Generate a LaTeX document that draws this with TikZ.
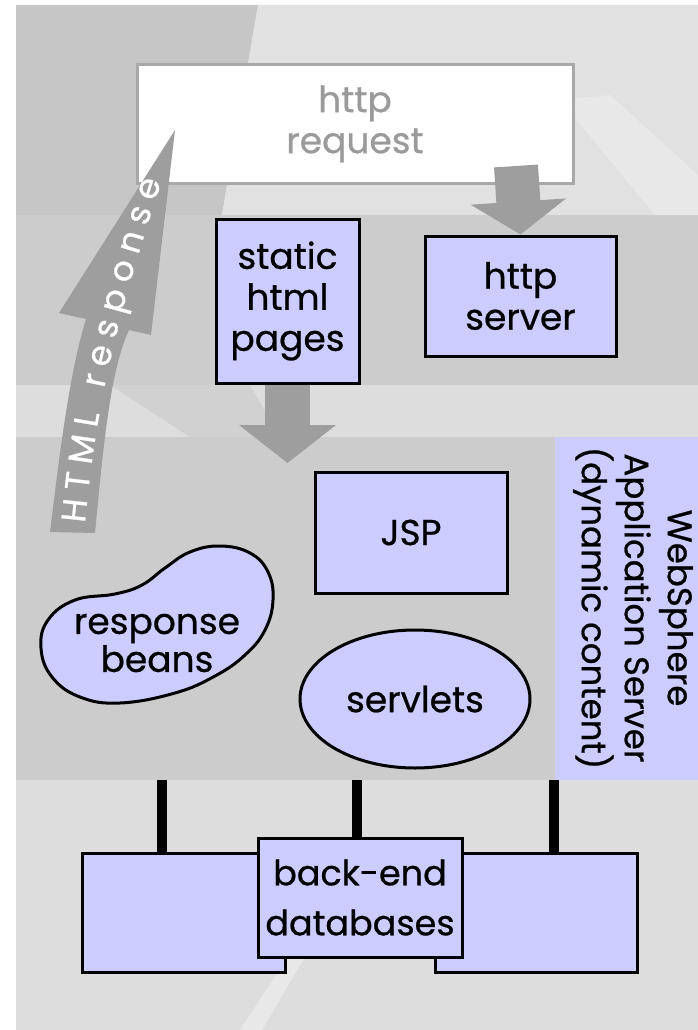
\documentclass[tikz,border=0pt]{standalone}
\usepackage{fontspec}
\setmainfont{Poppins}[FakeBold=0.7]
\usetikzlibrary{arrows.meta,calc,decorations.text,shapes.geometric}
\definecolor{lav}{HTML}{CCCCFF}
\definecolor{bandgray}{HTML}{CCCCCC}
\definecolor{lightbg}{HTML}{DDDDDD}
\definecolor{darkbg}{HTML}{C6C6C6}
\definecolor{paletop}{HTML}{E1E1E1}
\definecolor{streak}{HTML}{E8E8E8}
\definecolor{arrgray}{HTML}{9E9E9E}
\definecolor{reqgray}{HTML}{A8A8A8}
\definecolor{reqtext}{HTML}{9A9A9A}
\begin{document}
\begin{tikzpicture}[x=1pt,y=-1pt,
  lbl/.style={font=\fontsize{36}{41}\selectfont},
  box/.style={draw=black, line width=3pt, fill=lav, inner sep=0pt, align=center, lbl},
  conn/.style={draw=black, line width=10pt},
  fatarrow/.style={draw=arrgray, line width=#1}
]
\useasboundingbox (0,0) rectangle (698,1030);
% background
\fill[white] (0,0) rectangle (698,1030);
\fill[lightbg] (16,5) rectangle (698,1030);
\fill[darkbg] (16,5) -- (258,5) -- (222,215) -- (16,215) -- cycle;
\fill[paletop] (258,5) -- (698,5) -- (698,215) -- (222,215) -- cycle;
\fill[streak] (560,100) -- (610,95) -- (698,175) -- (698,215) -- (655,215) -- cycle;
\fill[bandgray] (16,215) rectangle (698,385);
\fill[darkbg!80!white] (110,385) -- (250,385) -- (280,437) -- (190,437) -- cycle;
\fill[bandgray] (16,437) rectangle (555,780);
\fill[lav] (555,437) rectangle (698,780);
\fill[streak] (240,1030) -- (262,1030) -- (350,880) -- (338,880) -- cycle;

% request box and arrow to http server
\node[draw=reqgray, line width=3pt, fill=white, text=reqtext, inner sep=0pt,
      minimum width=436pt, minimum height=118pt, align=center, lbl] (req) at (355,124) {http\\request};
\node[box, minimum width=191pt, minimum height=120pt] (srv) at (520.5,296) {http\\server};
\coordinate (reqout) at (516,166);
\draw[fatarrow=44pt, -{Triangle[width=94pt,length=33pt]}] (reqout) -- (srv.north);

% static pages and arrow into the application server
\node[box, minimum width=143pt, minimum height=164pt] (static) at (287.5,301) {static\\html\\pages};
\coordinate (appin) at (287.5,463);
\draw[fatarrow=45pt, -{Triangle[width=95pt,length=38pt]}] (static.south) -- (appin);

% HTML response arrow
\fill[arrgray] (50,532) -- (95,533)
  .. controls (103,450) and (110,370) .. (129,330)
  -- (151,335) -- (175,130) -- (59,313) -- (86,319)
  .. controls (70,370) and (60,450) .. (50,532) -- cycle;
\path[decorate, decoration={text along path,
   text={|\fontsize{34}{34}\selectfont|HTML response},
   text color=white, text align=fit to path, raise=-12pt}]
   (73,522) .. controls (84,410) and (100,330) .. (150,178);

% application server content
\node[box, minimum width=192pt, minimum height=121pt] (jsp) at (411,532.5) {JSP};
\node[box, ellipse, minimum width=230pt, minimum height=138pt] (srvl) at (415,699) {servlets};
\draw[draw=black, line width=3pt, fill=lav] plot[smooth cycle, tension=0.7] coordinates {
  (220,546) (250,553) (268,572) (273,600) (265,630) (245,655) (215,676) (175,693)
  (120,703) (80,697) (52,677) (41,648) (48,620) (75,600) (115,594) (142,585) (165,568) (190,552)};
\node[lbl, align=center, font=\fontsize{36}{38}\selectfont] (beans) at (157,643) {response\\beans};
\node[rotate=-90, align=center, font=\fontsize{34}{43}\selectfont] (was) at (633,608)
  {WebSphere\\Application Server\\(dynamic content)};

% back-end databases
\coordinate (c1) at (162,780);
\coordinate (c2) at (357,780);
\coordinate (c3) at (554,780);
\node[box, minimum width=203pt, minimum height=119pt] (dbl) at (183.5,912.5) {};
\node[box, minimum width=202pt, minimum height=119pt] (dbr) at (536,912.5) {};
\draw[conn] (c1) -- (c1 |- dbl.north);
\draw[conn] (c3) -- (c3 |- dbr.north);
\node[box, minimum width=204pt, minimum height=119pt, font=\fontsize{35}{50}\selectfont] (dbc) at (360,897.5) {back-end\\databases};
\draw[conn] (c2) -- (c2 |- dbc.north);
\end{tikzpicture}
\end{document}
